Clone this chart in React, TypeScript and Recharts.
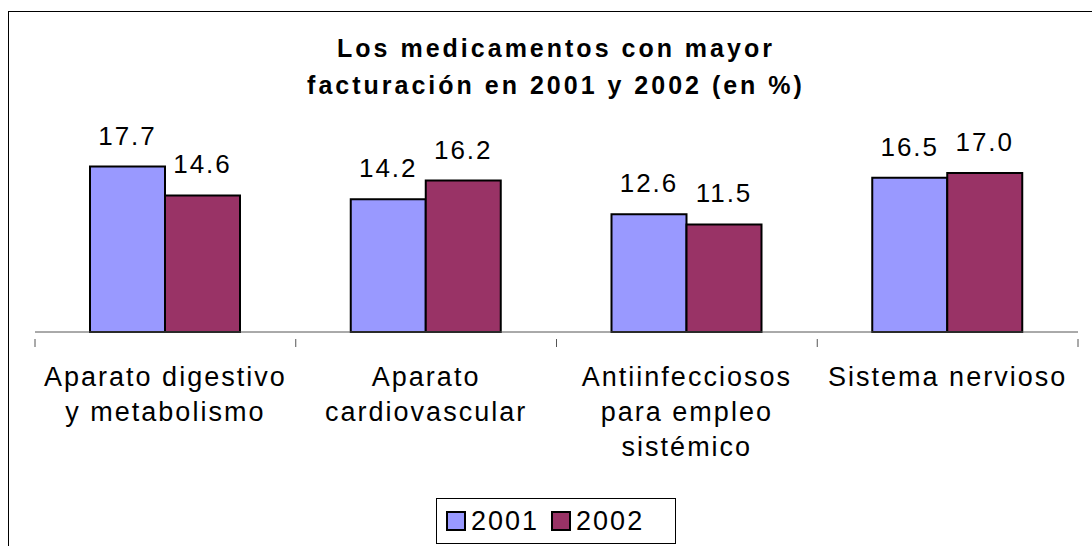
import { Bar, BarChart, LabelList, Legend, XAxis, YAxis } from "recharts";

const categories = [
  "Aparato digestivo y metabolismo",
  "Aparato cardiovascular",
  "Antiinfecciosos para empleo sistémico",
  "Sistema nervioso",
];
// how each category label wraps, as in the original
const categoryLines = [
  ["Aparato digestivo", "y metabolismo"],
  ["Aparato", "cardiovascular"],
  ["Antiinfecciosos", "para empleo", "sistémico"],
  ["Sistema nervioso"],
];
const values2001 = [17.7, 14.2, 12.6, 16.5];
const values2002 = [14.6, 16.2, 11.5, 17.0];
const seriesNames = ["2001", "2002"];
const titleLines = ["Los medicamentos con mayor", "facturación en 2001 y 2002 (en %)"];

const FONT = '"Liberation Sans", Arial, sans-serif';
const BLUE = "#9999FF";
const PLUM = "#993366";

const data = categories.map((name, i) => ({
  name,
  lines: categoryLines[i],
  [seriesNames[0]]: values2001[i],
  [seriesNames[1]]: values2002[i],
}));

function CategoryTick(props: any) {
  const { x, y, payload, index } = props;
  const half = payload.offset ?? 0;
  const lines: string[] = categoryLines[index] ?? [payload.value];
  return (
    <g>
      <line x1={x - half} x2={x - half} y1={y - 1} y2={y + 7} stroke="#555" />
      {index === categories.length - 1 && (
        <line x1={x + half} x2={x + half} y1={y - 1} y2={y + 7} stroke="#555" />
      )}
      <text
        x={x}
        y={y + 46}
        textAnchor="middle"
        fontFamily={FONT}
        fontSize={27}
        letterSpacing={2}
        fill="#000"
      >
        {lines.map((l, i) => (
          <tspan key={i} x={x} dy={i === 0 ? 0 : 35}>
            {l}
          </tspan>
        ))}
      </text>
    </g>
  );
}

function LegendBox(props: any) {
  const items = props.payload ?? [];
  return (
    <div
      style={{
        border: "1px solid #000",
        width: 240,
        height: 46,
        boxSizing: "border-box",
        display: "flex",
        alignItems: "center",
        paddingLeft: 9,
        fontFamily: FONT,
        fontSize: 27,
        letterSpacing: 2,
        background: "#fff",
      }}
    >
      {items.map((it: any) => (
        <div key={it.value} style={{ display: "flex", alignItems: "center", marginRight: 12 }}>
          <span
            style={{
              display: "inline-block",
              width: 20,
              height: 20,
              boxSizing: "border-box",
              border: "2px solid #000",
              background: it.color,
              marginRight: 5,
            }}
          />
          <span>{it.value}</span>
        </div>
      ))}
    </div>
  );
}

export default function App() {
  return (
    <div
      style={{
        position: "absolute",
        left: 0,
        top: 0,
        width: 1092,
        height: 546,
        overflow: "hidden",
        background: "#fff",
      }}
    >
      <div
        style={{
          position: "absolute",
          left: 8,
          top: 11,
          width: 1200,
          height: 600,
          borderLeft: "1px solid #000",
          borderTop: "1px solid #000",
        }}
      />
      <div
        style={{
          position: "absolute",
          left: 0,
          width: 1112,
          top: 30,
          textAlign: "center",
          fontFamily: FONT,
          fontWeight: "bold",
          fontSize: 25,
          letterSpacing: 3,
          lineHeight: "37px",
        }}
      >
        {titleLines.map((t) => (
          <div key={t}>{t}</div>
        ))}
      </div>
      <BarChart
        width={1092}
        height={546}
        data={data}
        margin={{ top: 145, right: 14, left: 35, bottom: 64 }}
        barCategoryGap={55}
        barGap={0}
        style={{ position: "absolute", left: 0, top: 0 }}
      >
        <XAxis
          dataKey="name"
          height={150}
          tick={<CategoryTick />}
          tickLine={false}
          axisLine={{ stroke: "#555" }}
          interval={0}
        />
        <YAxis hide domain={[0, 20]} />
        <Legend
          layout="vertical"
          align="center"
          verticalAlign="middle"
          content={<LegendBox />}
          wrapperStyle={{ left: 436, top: 498, width: 240, height: 46 }}
        />
        <Bar
          dataKey={seriesNames[0]}
          fill={BLUE}
          stroke="#000"
          strokeWidth={2}
          isAnimationActive={false}
        >
          <LabelList
            dataKey={seriesNames[0]}
            position="top"
            offset={22}
            formatter={(v: any) => Number(v).toFixed(1)}
            style={{ fontFamily: FONT, fontSize: 26, letterSpacing: 2, fill: "#000" }}
          />
        </Bar>
        <Bar
          dataKey={seriesNames[1]}
          fill={PLUM}
          stroke="#000"
          strokeWidth={2}
          isAnimationActive={false}
        >
          <LabelList
            dataKey={seriesNames[1]}
            position="top"
            offset={22}
            formatter={(v: any) => Number(v).toFixed(1)}
            style={{ fontFamily: FONT, fontSize: 26, letterSpacing: 2, fill: "#000" }}
          />
        </Bar>
      </BarChart>
    </div>
  );
}
